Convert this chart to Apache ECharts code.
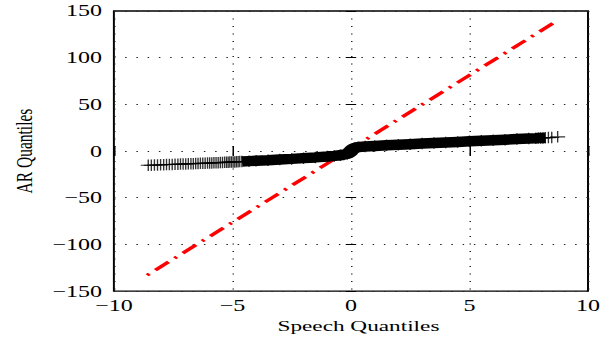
<!DOCTYPE html>
<html>
<head>
<meta charset="utf-8">
<script src="https://cdn.jsdelivr.net/npm/echarts@6/dist/echarts.min.js"></script>
<style>
  html, body { margin: 0; padding: 0; background: #fff; overflow: hidden; }
  /* the figure is laid out narrow and widened 1.5x horizontally */
  #chart { width: 402.67px; height: 339px; transform: scaleX(1.5); transform-origin: 0 0; }
</style>
</head>
<body>
<div id="chart"></div>
<script>
// Quantile pairs: speech quantiles (x) vs AR quantiles (y)
const speechQ = [
  -8.55, -8.42, -8.29, -8.16, -8.03, -7.90, -7.78, -7.66, -7.54, -7.42,
  -7.30, -7.19, -7.08, -6.97, -6.86, -6.75, -6.65, -6.55, -6.45, -6.35,
  -6.25, -6.15, -6.05, -5.96, -5.87, -5.78, -5.69, -5.60, -5.51, -5.42,
  -5.33, -5.25, -5.18, -5.11, -5.04, -4.97, -4.90, -4.83, -4.76, -4.69,
  -4.6, -4.3, -4.0, -3.5, -3.0, -2.5, -2.0, -1.5, -1.0, -0.7,
  -0.45, -0.3, -0.15, -0.05, 0.05, 0.15, 0.3, 0.6, 1.0,
  1.5, 2.0, 2.5, 3.0, 3.5, 4.0, 4.5, 5.0, 5.5, 6.0,
  6.5, 7.0, 7.5, 7.8, 7.9, 8.0, 8.1, 8.2,
  8.33, 8.47, 8.72
];
const arQ = [
  -15.3, -15.2, -15.0, -14.9, -14.8, -14.6, -14.5, -14.4, -14.3, -14.2,
  -14.1, -14.0, -13.9, -13.8, -13.7, -13.6, -13.5, -13.4, -13.3, -13.2,
  -13.1, -13.0, -12.9, -12.8, -12.7, -12.6, -12.5, -12.4, -12.3, -12.2,
  -12.1, -12.0, -11.9, -11.8, -11.7, -11.65, -11.6, -11.5, -11.4, -11.3,
  -11.2, -10.8, -10.4, -9.8, -9.1, -8.4, -7.6, -6.8, -5.9, -5.2,
  -4.5, -3.7, -2.9, -1.4, 1.6, 3.2, 4.2, 4.9, 5.5,
  6.2, 6.8, 7.4, 8.0, 8.6, 9.2, 9.8, 10.4, 11.0, 11.6,
  12.2, 12.8, 13.4, 13.7, 13.85, 14.0, 14.1, 14.2,
  14.4, 14.6, 15.2
];
// Fitted reference line end points
const refX = [-8.62, 8.72];
const refY = [-133.4, 139.9];
// Axis ticks
const xTicks = [-10, -5, 0, 5, 10];
const yTicks = [-150, -100, -50, 0, 50, 100, 150];

const FONT = 'Liberation Serif';
const pts = speechQ.map((x, i) => [x, arQ[i]]);
const bandPts = pts.filter(p => p[0] >= -4.6 && p[0] <= 8.2);
const refPts = refX.map((x, i) => [x, refY[i]]);
const minus = v => String(v).replace('-', '\u2212');
const plus = 'path://M0,5h11v1h-11zM5,0h1v11h-1z';

const chart = echarts.init(document.getElementById('chart'), null, { renderer: 'svg' });
chart.setOption({
  animation: false,
  backgroundColor: '#fff',
  textStyle: { fontFamily: FONT },
  grid: { left: 69.33, right: 9.33, top: 11, bottom: 47, show: true, borderColor: '#000', borderWidth: 1.3 },
  xAxis: [{
    type: 'value', min: xTicks[0], max: xTicks[xTicks.length - 1], interval: 5, position: 'bottom',
    axisLine: { show: false },
    axisTick: { inside: true, length: 5, lineStyle: { color: '#000', width: 1 } },
    axisLabel: { margin: 6, color: '#000', fontSize: 16, fontFamily: FONT, formatter: minus },
    splitLine: { show: true, lineStyle: { color: '#222', width: 1, type: [1, 6.5] } },
    name: 'Speech Quantiles', nameLocation: 'middle', nameGap: 13,
    nameTextStyle: { color: '#000', fontSize: 15.5, fontFamily: FONT, padding: [0, 0, 0, 10] }
  }, {
    type: 'value', min: xTicks[0], max: xTicks[xTicks.length - 1], interval: 5, position: 'top',
    axisLine: { show: false },
    axisTick: { inside: true, length: 5, lineStyle: { color: '#000', width: 1 } },
    axisLabel: { show: false }, splitLine: { show: false }
  }],
  yAxis: [{
    type: 'value', min: yTicks[0], max: yTicks[yTicks.length - 1], interval: 50, position: 'left',
    axisLine: { show: false },
    axisTick: { inside: true, length: 3.5, lineStyle: { color: '#000', width: 1 } },
    axisLabel: { margin: 8, color: '#000', fontSize: 16, fontFamily: FONT, formatter: minus },
    splitLine: { show: true, lineStyle: { color: '#222', width: 1, type: [1, 6.5] } },
    name: 'AR Quantiles', nameLocation: 'middle', nameGap: 40,
    nameTextStyle: { color: '#000', fontSize: 15.5, fontFamily: FONT }
  }, {
    type: 'value', min: yTicks[0], max: yTicks[yTicks.length - 1], interval: 50, position: 'right',
    axisLine: { show: false },
    axisTick: { inside: true, length: 3.5, lineStyle: { color: '#000', width: 1 } },
    axisLabel: { show: false }, splitLine: { show: false }
  }],
  series: [{
    name: 'reference', type: 'line', data: refPts, symbol: 'none', z: 2,
    lineStyle: { color: '#ff0000', width: 3, type: [12, 5.5, 2, 5.5], dashOffset: 17 }
  }, {
    name: 'band', type: 'line', data: bandPts, symbol: 'none', z: 3,
    lineStyle: { color: '#000', width: 10.5 }
  }, {
    name: 'quantiles', type: 'scatter', data: pts, symbol: plus, symbolSize: [10, 11.5], z: 4,
    itemStyle: { color: '#000' }
  }]
});
</script>
</body>
</html>
